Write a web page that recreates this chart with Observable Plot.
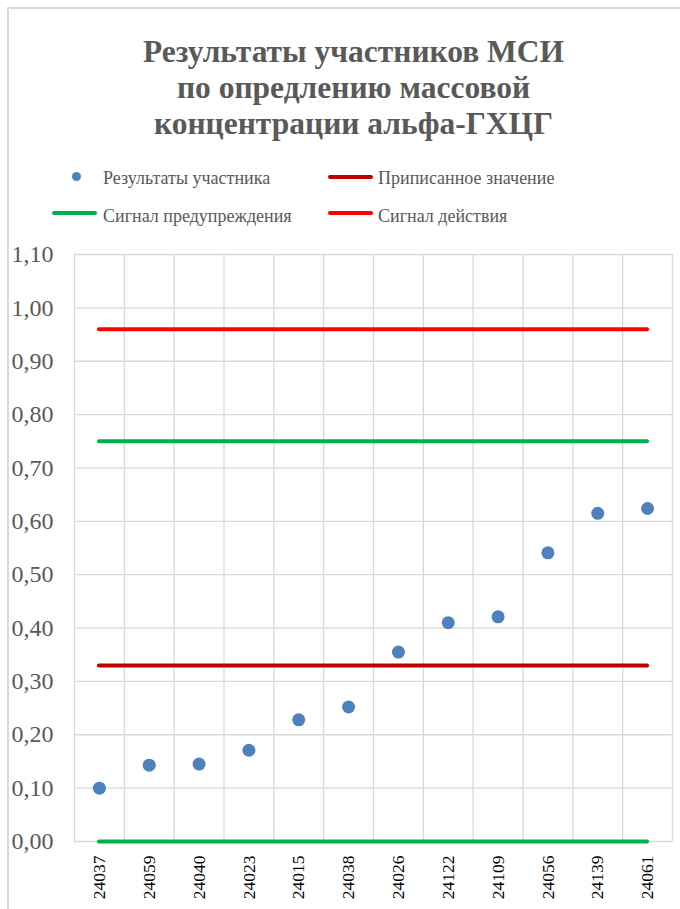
<!DOCTYPE html>
<html><head><meta charset="utf-8">
<script src="https://cdn.jsdelivr.net/npm/d3@7"></script>
<script src="https://cdn.jsdelivr.net/npm/@observablehq/plot@0.6"></script>
</head>
<body style="margin:0;background:#fff;font-family:'Liberation Serif';color:#595959;overflow:hidden">
<div style="position:absolute;left:7px;top:7px;width:760px;height:1000px;border:2px solid #d9d9d9;box-sizing:border-box"></div>
<div style="position:absolute;left:0;width:707px;top:34px;text-align:center;font-family:'Liberation Serif';font-weight:bold;font-size:31.5px;line-height:36px;white-space:nowrap">Результаты участников МСИ<br>по опредлению массовой<br>концентрации альфа-ГХЦГ</div>
<div style="position:absolute;width:9px;height:9px;border-radius:50%;background:#4f81bd;left:72px;top:172px"></div>
<div style="position:absolute;font-family:'Liberation Serif';font-size:18px;line-height:20px;white-space:nowrap;left:103px;top:168px">Результаты участника</div>
<div style="position:absolute;height:4px;width:45px;border-radius:2px;left:328px;top:175px;background:#c00000"></div>
<div style="position:absolute;font-family:'Liberation Serif';font-size:18px;line-height:20px;white-space:nowrap;left:378px;top:168px">Приписанное значение</div>
<div style="position:absolute;height:4px;width:45px;border-radius:2px;left:52px;top:211px;background:#00b050"></div>
<div style="position:absolute;font-family:'Liberation Serif';font-size:18px;line-height:20px;white-space:nowrap;left:103px;top:206px">Сигнал предупреждения</div>
<div style="position:absolute;height:4px;width:45px;border-radius:2px;left:328px;top:211px;background:#ff0000"></div>
<div style="position:absolute;font-family:'Liberation Serif';font-size:18px;line-height:20px;white-space:nowrap;left:378px;top:206px">Сигнал действия</div>
<div id="chart" style="position:absolute;left:0;top:230px"></div>
<script>
const ids = ["24037","24059","24040","24023","24015","24038","24026","24122","24109","24056","24139","24061"];
const results = [0.100,0.143,0.145,0.171,0.228,0.252,0.355,0.410,0.421,0.541,0.615,0.624];
const assignedValue = [0.33];
const warningSignal = [0.00, 0.75];
const actionSignal = [0.96];
const yTicks = [0,0.1,0.2,0.3,0.4,0.5,0.6,0.7,0.8,0.9,1.0,1.1];

const n = ids.length;
const centers = ids.map((d,i)=>i+0.5);
const edges = d3.range(n+1);
const lineOpts = (c)=>({x1:0.5, x2:n-0.5, stroke:c, strokeWidth:4, strokeLinecap:"round"});

const chart = Plot.plot({
  width:680, height:679,
  marginLeft:74, marginRight:8, marginTop:24, marginBottom:68,
  style:{fontFamily:"Liberation Serif", color:"#595959", background:"transparent"},
  x:{type:"linear", domain:[0,n], axis:null},
  y:{domain:[0,1.1], axis:null},
  marks:[
    Plot.gridX(edges, {stroke:"#d9d9d9", strokeOpacity:1, strokeWidth:1.3}),
    Plot.gridY(yTicks, {stroke:"#d9d9d9", strokeOpacity:1, strokeWidth:1.3}),
    Plot.axisY(yTicks, {tickSize:0, tickPadding:21, fontSize:24, fill:"#595959",
      tickFormat:d=>d.toFixed(2).replace(".", ",")}),
    Plot.axisX(centers, {tickSize:0, tickRotate:-90, tickPadding:14, fontSize:17.5, fill:"#000",
      tickFormat:d=>ids[Math.round(d-0.5)]}),
    Plot.ruleY(warningSignal, lineOpts("#00b050")),
    Plot.ruleY(actionSignal, lineOpts("#ff0000")),
    Plot.ruleY(assignedValue, lineOpts("#c00000")),
    Plot.dot(results, {x:(d,i)=>i+0.5, y:d=>d, r:6.5, fill:"#4f81bd", stroke:"none"})
  ]
});
chart.querySelectorAll("text").forEach(t=>t.setAttribute("font-family","Liberation Serif"));
document.getElementById("chart").appendChild(chart);
</script>
</body></html>
